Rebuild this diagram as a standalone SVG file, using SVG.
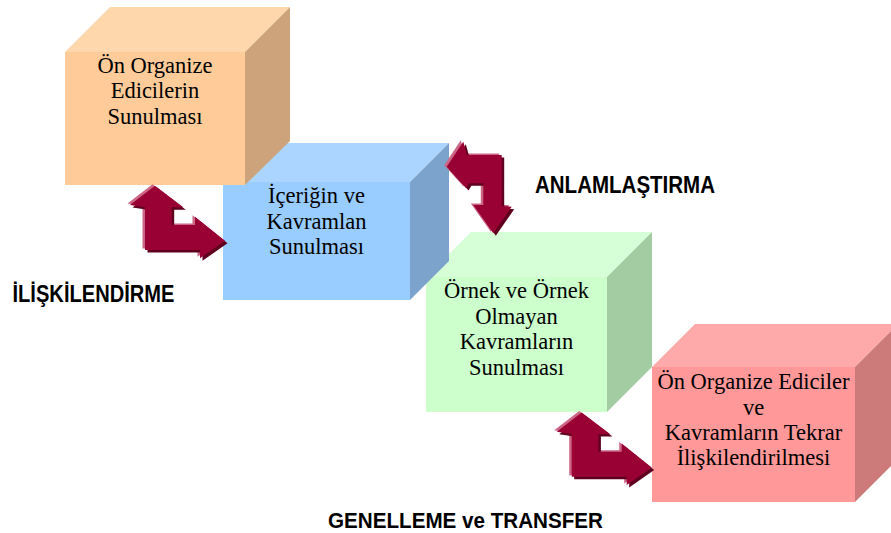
<svg xmlns="http://www.w3.org/2000/svg" xmlns:xlink="http://www.w3.org/1999/xlink" width="891" height="533" viewBox="0 0 891 533">
  <style>
    .box-text { font-family: "Liberation Serif", "Times New Roman", serif; font-size: 22.5px; fill: #000; text-anchor: middle; }
    .label { font-family: "Liberation Sans", Arial, sans-serif; font-weight: bold; fill: #000; }
    .arrow-main { fill: #990033; }
    .arrow-dark { fill: #5E001E; }
    .arrow-light { fill: #CC6685; }
  </style>
  <defs>
    <!-- bent double arrow: one head up, one head right -->
    <polygon id="bentShape" points="155,185.7 183.3,207.3 171.7,207.3 171.7,225 195,225 195,216.7 225,240.7 200,258.3 200,250 145,250 145,207.3 130,205"/>
    <g id="bentArrow">
      <use xlink:href="#bentShape" class="arrow-light" transform="translate(-2.5,-1.5)"/>
      <use xlink:href="#bentShape" class="arrow-dark" transform="translate(2.5,2.5)"/>
      <use xlink:href="#bentShape" class="arrow-main"/>
    </g>
    <!-- bent double arrow: one head left, one head down -->
    <polygon id="turnShape" points="446.7,166.7 463.3,141.7 467,155 501.7,155 501.7,206 511.7,206.7 493.3,233.3 473.3,205 483.3,205 483.3,183.3 469,183.3 466,188"/>
  </defs>

  <rect width="891" height="533" fill="#FFFFFF"/>

  <!-- cubes, back to front -->
  <g id="cube-relate-again">
    <rect x="652" y="367" width="203" height="135" fill="#FF9999"/>
    <polygon points="652,367 695,324 898,324 855,367" fill="#FFAAAA"/>
    <polygon points="855,367 898,324 898,459 855,502" fill="#CC7A7A"/>
    <text class="box-text" x="753.5" y="389">Ön Organize Ediciler</text>
    <text class="box-text" x="753.5" y="414.5">ve</text>
    <text class="box-text" x="753.5" y="439.5">Kavramların Tekrar</text>
    <text class="box-text" x="753.5" y="465">İlişkilendirilmesi</text>
  </g>

  <g id="cube-examples">
    <rect x="426" y="277" width="181" height="135" fill="#CCFFCC"/>
    <polygon points="426,277 471,232 652,232 607,277" fill="#D7FFD7"/>
    <polygon points="607,277 652,232 652,367 607,412" fill="#A3CCA3"/>
    <text class="box-text" x="516.5" y="298">Örnek ve Örnek</text>
    <text class="box-text" x="516.5" y="324">Olmayan</text>
    <text class="box-text" x="516.5" y="349">Kavramların</text>
    <text class="box-text" x="516.5" y="375">Sunulması</text>
  </g>

  <g id="cube-content">
    <rect x="223" y="182" width="187" height="118" fill="#99CCFF"/>
    <polygon points="223,182 262,143 449,143 410,182" fill="#ABD5FF"/>
    <polygon points="410,182 449,143 449,261 410,300" fill="#7BA3CC"/>
    <text class="box-text" x="316.5" y="203">İçeriğin ve</text>
    <text class="box-text" x="316.5" y="228.5">Kavramlan</text>
    <text class="box-text" x="316.5" y="254">Sunulması</text>
  </g>

  <g id="cube-organizers">
    <rect x="65" y="52" width="180" height="133" fill="#FFCC99"/>
    <polygon points="65,52 110,7 290,7 245,52" fill="#FFD7AD"/>
    <polygon points="245,52 290,7 290,141 245,185" fill="#CCA37A"/>
    <text class="box-text" x="155" y="73">Ön Organize</text>
    <text class="box-text" x="155" y="98">Edicilerin</text>
    <text class="box-text" x="155" y="124">Sunulması</text>
  </g>

  <!-- connectors -->
  <g id="connectors">
    <use xlink:href="#bentArrow"/>
    <g>
      <use xlink:href="#turnShape" class="arrow-light" transform="translate(-2.5,-1.5)"/>
      <use xlink:href="#turnShape" class="arrow-dark" transform="translate(2.5,2.5)"/>
      <use xlink:href="#turnShape" class="arrow-main"/>
    </g>
    <use xlink:href="#bentArrow" transform="translate(426.7,226.7)"/>
  </g>

  <!-- stage labels -->
  <g id="labels">
    <text class="label" x="535" y="193" font-size="24" textLength="180" lengthAdjust="spacingAndGlyphs">ANLAMLAŞTIRMA</text>
    <text class="label" x="12.5" y="302" font-size="23.5" textLength="162" lengthAdjust="spacingAndGlyphs">İLİŞKİLENDİRME</text>
    <text class="label" x="328" y="528" font-size="22.5" textLength="275" lengthAdjust="spacingAndGlyphs">GENELLEME ve TRANSFER</text>
  </g>
</svg>
